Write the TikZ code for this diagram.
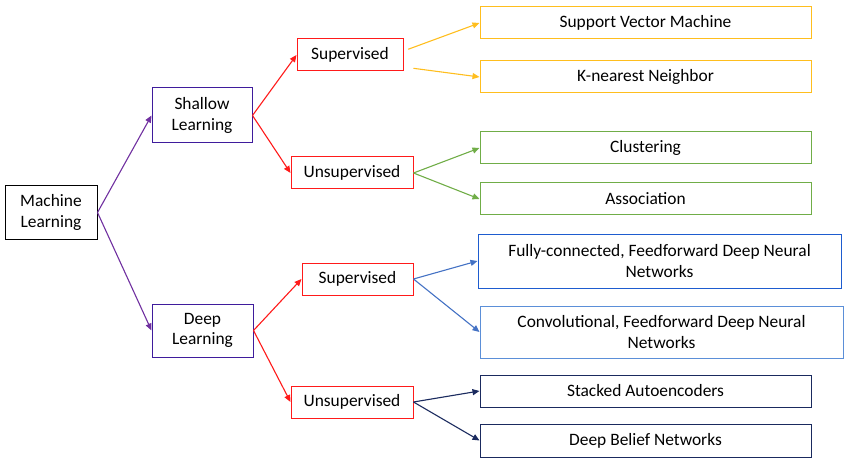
\documentclass[tikz,border=0pt]{standalone}
\usepackage{fontspec}
\setmainfont{Carlito}
\usetikzlibrary{arrows.meta}
\definecolor{mlpurple}{HTML}{7030A0}
\definecolor{boxpurple}{HTML}{3F1C9C}
\definecolor{mlred}{HTML}{FF1A1A}
\definecolor{mlorange}{HTML}{FFBE1E}
\definecolor{mlgreen}{HTML}{70AD47}
\definecolor{mlblue}{HTML}{4472C4}
\definecolor{fcblue}{HTML}{1E5CCF}
\definecolor{convblue}{HTML}{5B8FD8}
\definecolor{mlnavy}{HTML}{1A2A5E}
\begin{document}
\begin{tikzpicture}[x=1pt,y=-1pt,
    box/.style={draw,rectangle,inner sep=0pt,align=center,line width=1pt,
        font=\fontsize{17.4}{20.5}\selectfont},
    leaf/.style={box,minimum width=331pt,minimum height=32pt},
    arr/.style={-{Triangle[length=7pt,width=6pt]},line width=1.1pt}]
    \useasboundingbox (0,0) rectangle (850,462);

    \node[box,minimum width=92pt,minimum height=53pt] (ml) at (51,212.5) {Machine\\Learning};
    \node[box,boxpurple,text=black,minimum width=100pt,minimum height=55pt] (shallow) at (202,115.5) {Shallow\\Learning};
    \node[box,boxpurple,text=black,minimum width=101pt,minimum height=53pt] (deep) at (202.5,330.5) {Deep\\Learning};

    \node[box,mlred,text=black,minimum width=106pt,minimum height=32pt] (sup1) at (350,55) {Supervised};
    \node[box,mlred,text=black,minimum width=122pt,minimum height=32pt] (uns1) at (352,173) {Unsupervised};
    \node[box,mlred,text=black,minimum width=111pt,minimum height=32pt] (sup2) at (357.5,279) {Supervised};
    \node[box,mlred,text=black,minimum width=122pt,minimum height=32pt] (uns2) at (352,402) {Unsupervised};

    \node[leaf,mlorange,text=black] (svm) at (645.5,23) {Support Vector Machine};
    \node[leaf,mlorange,text=black] (knn) at (645.5,77) {K-nearest Neighbor};
    \node[leaf,mlgreen,text=black] (clust) at (645.5,148) {Clustering};
    \node[leaf,mlgreen,text=black] (assoc) at (645.5,199) {Association};
    \node[box,fcblue,text=black,minimum width=363pt,minimum height=54pt] (fc) at (659.5,261)
        {Fully-connected, Feedforward Deep Neural\\Networks};
    \node[box,convblue,text=black,minimum width=363pt,minimum height=52pt] (conv) at (661.5,332)
        {Convolutional, Feedforward Deep Neural\\Networks};
    \node[leaf,mlnavy,text=black] (stacked) at (645.5,391) {Stacked Autoencoders};
    \node[leaf,mlnavy,text=black,minimum height=33pt] (dbn) at (645.5,440.5) {Deep Belief Networks};

    \draw[arr,mlpurple] (ml.east) -- (shallow.west);
    \draw[arr,mlpurple] (ml.east) -- (deep.west);

    \draw[arr,mlred] (shallow.east) -- (sup1.west);
    \draw[arr,mlred] (shallow.east) -- (uns1.west);
    \draw[arr,mlred] (deep.east) -- (sup2.west);
    \draw[arr,mlred] (deep.east) -- (uns2.west);

    \draw[arr,mlorange,shorten <=5pt] ([yshift=4pt]sup1.east) -- (svm.west);
    \draw[arr,mlorange,shorten <=10pt] ([yshift=-12pt]sup1.east) -- (knn.west);
    \draw[arr,mlgreen] (uns1.east) -- (clust.west);
    \draw[arr,mlgreen] (uns1.east) -- (assoc.west);
    \draw[arr,mlblue] (sup2.east) -- (fc.west);
    \draw[arr,mlblue] (sup2.east) -- (conv.west);
    \draw[arr,mlnavy] (uns2.east) -- (stacked.west);
    \draw[arr,mlnavy] (uns2.east) -- (dbn.west);
\end{tikzpicture}
\end{document}
